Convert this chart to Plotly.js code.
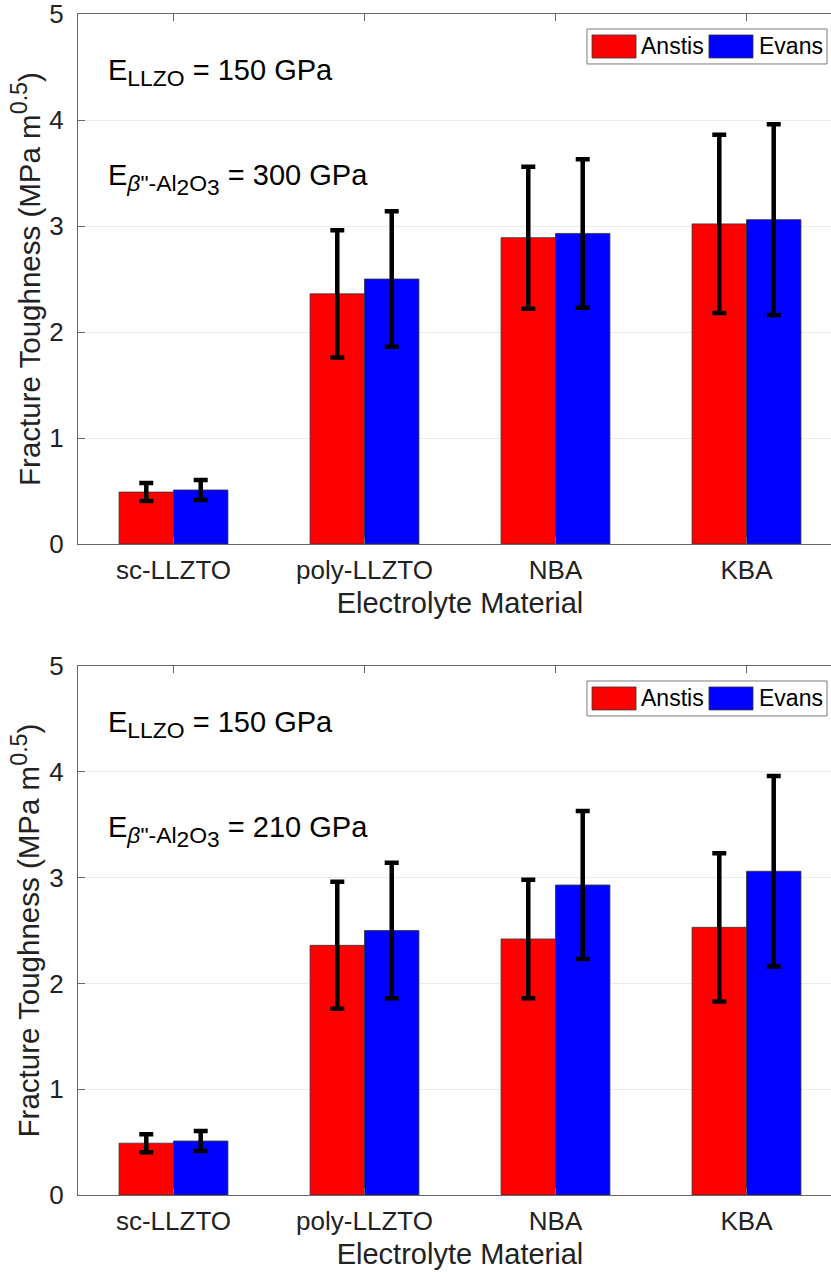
<!DOCTYPE html>
<html>
<head>
<meta charset="utf-8">
<script src="https://cdn.plot.ly/plotly-3.0.1.min.js"></script>
<style>
  html, body { margin: 0; padding: 0; overflow: hidden; background: #fff; }
  #chart { width: 846px; height: 1272px; }
</style>
</head>
<body>
<div id="chart"></div>
<script>
// Electrolyte materials on the x axis
const categories = ['sc-LLZTO', 'poly-LLZTO', 'NBA', 'KBA'];

// Fracture toughness (MPa m^0.5), E_beta''-Al2O3 = 300 GPa
const anstis300 = [0.49, 2.36, 2.89, 3.02];
const anstisErr300 = [0.085, 0.60, 0.67, 0.84];
const evans300 = [0.51, 2.50, 2.93, 3.06];
const evansErr300 = [0.095, 0.64, 0.70, 0.90];

// Fracture toughness (MPa m^0.5), E_beta''-Al2O3 = 210 GPa
const anstis210 = [0.49, 2.36, 2.42, 2.53];
const anstisErr210 = [0.085, 0.60, 0.56, 0.70];
const evans210 = [0.51, 2.50, 2.93, 3.06];
const evansErr210 = [0.095, 0.64, 0.70, 0.90];

const seriesNames = ['Anstis', 'Evans'];
const seriesColors = ['#ff0000', '#0000ff'];
const yTickVals = [0, 1, 2, 3, 4, 5];

const FONT = 'Liberation Sans, Arial, Helvetica, sans-serif';
const AXIS_COLOR = '#666666';
const TEXT_COLOR = '#222222';

// larger sub/superscripts than the default 70%
const big = s => '<span style="font-size:113%">' + s + '</span>';

function barTrace(name, color, y, err, xa, ya) {
  return {
    type: 'bar',
    name: name,
    x: categories,
    y: y,
    xaxis: xa,
    yaxis: ya,
    marker: { color: color, line: { color: '#333333', width: 0.8 } },
    error_y: { type: 'data', array: err, visible: true, color: '#000000', thickness: 4.5, width: 7 },
    showlegend: false,
    hoverinfo: 'x+y'
  };
}

const data = [
  barTrace(seriesNames[0], seriesColors[0], anstis300, anstisErr300, 'x', 'y'),
  barTrace(seriesNames[1], seriesColors[1], evans300, evansErr300, 'x', 'y'),
  barTrace(seriesNames[0], seriesColors[0], anstis210, anstisErr210, 'x2', 'y2'),
  barTrace(seriesNames[1], seriesColors[1], evans210, evansErr210, 'x2', 'y2')
];

function xAxis(anchor) {
  return {
    anchor: anchor,
    type: 'category',
    categoryorder: 'array',
    categoryarray: categories,
    range: [-0.5, 3.5],
    showline: true, linecolor: AXIS_COLOR, linewidth: 1,
    mirror: 'ticks',
    ticks: 'inside', ticklen: 7, tickcolor: AXIS_COLOR, tickwidth: 1,
    showgrid: false,
    tickfont: { family: FONT, size: 26, color: TEXT_COLOR },
    ticklabelstandoff: 3,
    title: { text: 'Electrolyte Material', font: { family: FONT, size: 29, color: TEXT_COLOR }, standoff: 8 },
    automargin: false,
    fixedrange: true
  };
}

function yAxis(anchor, domain) {
  return {
    anchor: anchor,
    domain: domain,
    range: [0, 5],
    tickvals: yTickVals,
    showline: true, linecolor: AXIS_COLOR, linewidth: 1,
    mirror: true,
    ticks: 'inside', ticklen: 7, tickcolor: AXIS_COLOR, tickwidth: 1,
    showgrid: true, gridcolor: '#ebebeb', gridwidth: 1,
    zeroline: false,
    tickfont: { family: FONT, size: 26, color: TEXT_COLOR },
    ticklabelstandoff: 8,
    ticklabeloverflow: 'allow',
    title: { text: 'Fracture Toughness (MPa m<sup>' + big('0.5') + '</sup>)', font: { family: FONT, size: 29.5, color: TEXT_COLOR }, standoff: 0 },
    automargin: false,
    fixedrange: true
  };
}

// Legend box drawn inside each panel, in axis-domain units
function legendShapes(xr, yr) {
  const shapes = [{
    type: 'rect', xref: xr, yref: yr,
    x0: 0.6662, x1: 0.9804, y0: 0.9057, y1: 0.9717,
    fillcolor: '#ffffff', line: { color: '#7a7a7a', width: 1 }, layer: 'above'
  }];
  const swX = [[0.6728, 0.7304], [0.8259, 0.8835]];
  seriesColors.forEach((c, i) => {
    shapes.push({
      type: 'rect', xref: xr, yref: yr,
      x0: swX[i][0], x1: swX[i][1], y0: 0.917, y1: 0.9604,
      fillcolor: c, line: { color: '#333333', width: 0.8 }, layer: 'above'
    });
  });
  return shapes;
}

function legendLabels(xr, yr) {
  const labX = [0.7343, 0.8887];
  return seriesNames.map((n, i) => ({
    xref: xr, yref: yr, x: labX[i], y: 0.9387,
    xanchor: 'left', yanchor: 'middle', showarrow: false,
    text: n, font: { family: FONT, size: 23, color: '#000000' }
  }));
}

function modulusNotes(xr, yr, alumina) {
  return [
    {
      xref: xr, yref: yr, x: 0.0366, y: 0.889,
      xanchor: 'left', yanchor: 'middle', showarrow: false,
      text: 'E<sub>' + big('LLZO') + '</sub> = 150 GPa',
      font: { family: FONT, size: 29, color: '#000000' }
    },
    {
      xref: xr, yref: yr, x: 0.0366, y: 0.688,
      xanchor: 'left', yanchor: 'middle', showarrow: false,
      text: 'E<sub>' + big('<i>β</i>"-Al') + '<sub><span style="font-size:160%">2</span></sub>' +
            big('O') + '<sub><span style="font-size:160%">3</span></sub></sub> = ' + alumina + ' GPa',
      font: { family: FONT, size: 29, color: '#000000' }
    }
  ];
}

const layout = {
  width: 846,
  height: 1272,
  margin: { l: 78, r: 4, t: 14, b: 77 },
  paper_bgcolor: '#ffffff',
  plot_bgcolor: '#ffffff',
  barmode: 'group',
  bargap: 0.43,
  bargroupgap: 0,
  showlegend: false,
  font: { family: FONT, color: TEXT_COLOR },
  xaxis: xAxis('y'),
  yaxis: yAxis('x', [0.5512, 1]),
  xaxis2: xAxis('y2'),
  yaxis2: yAxis('x2', [0, 0.4479]),
  shapes: legendShapes('x domain', 'y domain').concat(legendShapes('x2 domain', 'y2 domain')),
  annotations: modulusNotes('x domain', 'y domain', 300)
    .concat(modulusNotes('x2 domain', 'y2 domain', 210))
    .concat(legendLabels('x domain', 'y domain'))
    .concat(legendLabels('x2 domain', 'y2 domain'))
};

Plotly.newPlot('chart', data, layout, { displayModeBar: false, staticPlot: true });
</script>
</body>
</html>
